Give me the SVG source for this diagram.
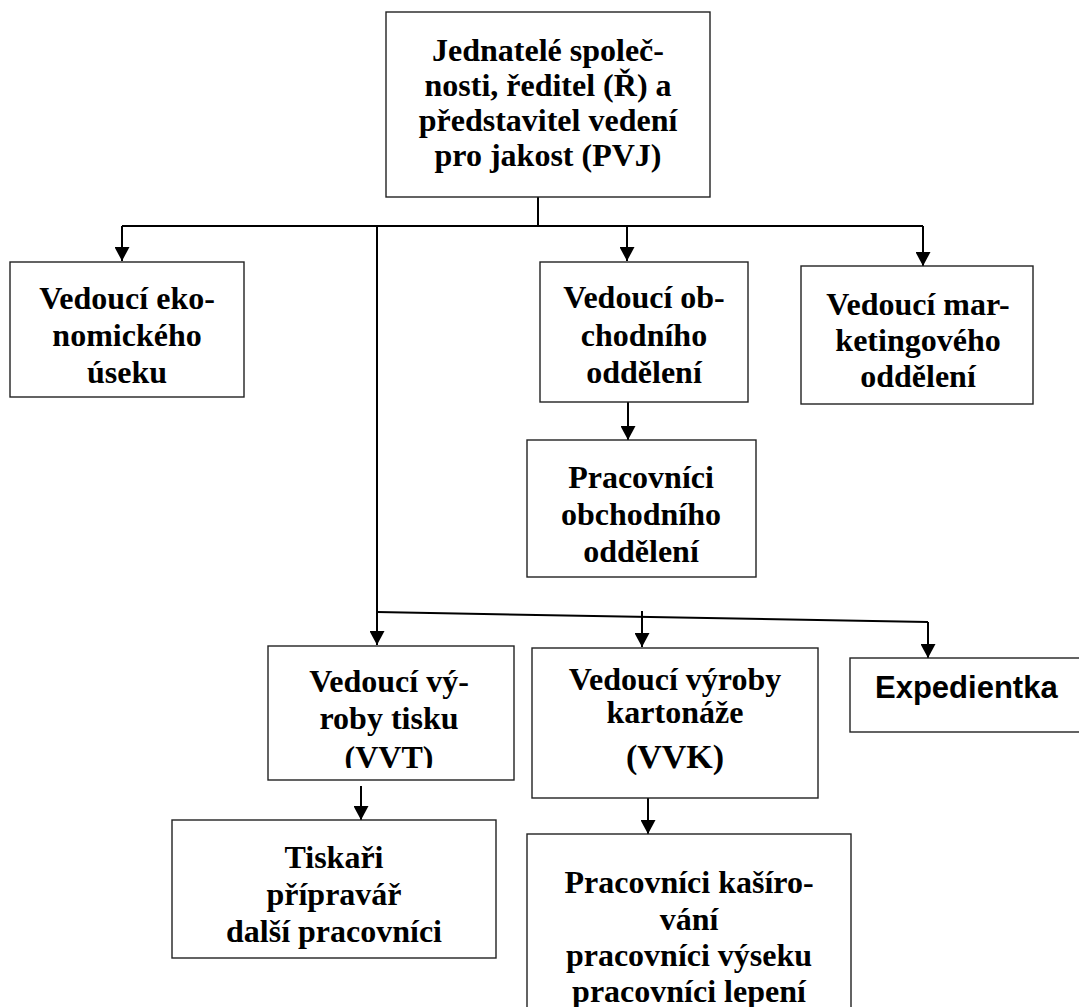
<svg xmlns="http://www.w3.org/2000/svg" width="1079" height="1007" viewBox="0 0 1079 1007">
<style>
.box{fill:#fff;stroke:#222;stroke-width:1.4}
.t{font-family:"Liberation Serif","Times New Roman",serif;font-weight:bold;font-size:32px;fill:#000;text-anchor:middle}
.s{font-family:"Liberation Sans",Arial,sans-serif;font-weight:bold;font-size:31px;fill:#000}
.c{fill:none;stroke:#000;stroke-width:2}
</style>
<defs>
<marker id="ah" markerUnits="userSpaceOnUse" markerWidth="15" markerHeight="15" refX="14" refY="7.5" orient="auto" viewBox="0 0 15 15">
<path d="M0,0 L14,7.5 L0,15 z" fill="#000"/>
</marker>
<clipPath id="clipVVT"><rect x="268" y="646" width="246" height="122"/></clipPath>
</defs>
<rect width="1079" height="1007" fill="#fff"/>
<g id="connectors">
<path class="c" d="M538,197 V226"/>
<path class="c" d="M122,226 H923"/>
<path class="c" d="M122,226 V261" marker-end="url(#ah)"/>
<path class="c" d="M627,226 V261" marker-end="url(#ah)"/>
<path class="c" d="M923,226 V266" marker-end="url(#ah)"/>
<path class="c" d="M377,226 V612"/>
<path class="c" d="M628,402 V440" marker-end="url(#ah)"/>
<path class="c" d="M377,612 L928,622"/>
<path class="c" d="M377,612 V645" marker-end="url(#ah)"/>
<path class="c" d="M642,611 V647" marker-end="url(#ah)"/>
<path class="c" d="M928,622 V658" marker-end="url(#ah)"/>
<path class="c" d="M361,786 V820" marker-end="url(#ah)"/>
<path class="c" d="M648,798 V834" marker-end="url(#ah)"/>
</g>
<g id="n-top">
<rect class="box" x="386" y="12" width="324" height="185"/>
<text class="t" x="548" y="61">Jednatelé společ-</text>
<text class="t" x="548" y="96">nosti, ředitel (Ř) a</text>
<text class="t" x="548" y="131">představitel vedení</text>
<text class="t" x="548" y="166">pro jakost (PVJ)</text>
</g>
<g id="n-eko">
<rect class="box" x="10" y="262" width="234" height="135"/>
<text class="t" x="127" y="309">Vedoucí eko-</text>
<text class="t" x="127" y="346">nomického</text>
<text class="t" x="127" y="383">úseku</text>
</g>
<g id="n-obch">
<rect class="box" x="540" y="262" width="208" height="140"/>
<text class="t" x="644" y="308">Vedoucí ob-</text>
<text class="t" x="644" y="346">chodního</text>
<text class="t" x="644" y="383">oddělení</text>
</g>
<g id="n-mark">
<rect class="box" x="801" y="266" width="232" height="138"/>
<text class="t" x="918" y="315">Vedoucí mar-</text>
<text class="t" x="918" y="351">ketingového</text>
<text class="t" x="918" y="387">oddělení</text>
</g>
<g id="n-prac-obch">
<rect class="box" x="527" y="440" width="229" height="137"/>
<text class="t" x="641" y="488">Pracovníci</text>
<text class="t" x="641" y="525">obchodního</text>
<text class="t" x="641" y="562">oddělení</text>
</g>
<g id="n-vvt">
<rect class="box" x="268" y="646" width="246" height="134"/>
<text class="t" x="389" y="692">Vedoucí vý-</text>
<text class="t" x="389" y="729">roby tisku</text>
<text class="t" x="389" y="768" clip-path="url(#clipVVT)">(VVT)</text>
</g>
<g id="n-vvk">
<rect class="box" x="532" y="648" width="286" height="150"/>
<text class="t" x="675" y="690">Vedoucí výroby</text>
<text class="t" x="675" y="723">kartonáže</text>
<text class="t" x="675" y="768" style="font-size:34px">(VVK)</text>
</g>
<g id="n-exp">
<rect class="box" x="850" y="658" width="235" height="74"/>
<text class="s" x="875" y="698">Expedientka</text>
</g>
<g id="n-tisk">
<rect class="box" x="172" y="820" width="324" height="138"/>
<text class="t" x="334" y="868">Tiskaři</text>
<text class="t" x="334" y="905">přípravář</text>
<text class="t" x="334" y="942">další pracovníci</text>
</g>
<g id="n-kas">
<rect class="box" x="527" y="834" width="324" height="180"/>
<text class="t" x="689" y="893">Pracovníci kašíro-</text>
<text class="t" x="689" y="930">vání</text>
<text class="t" x="689" y="966">pracovníci výseku</text>
<text class="t" x="689" y="1002">pracovníci lepení</text>
</g>
</svg>
